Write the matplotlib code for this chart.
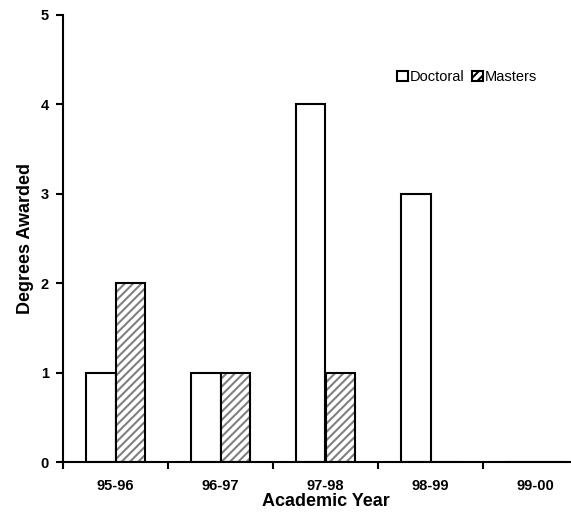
import numpy as np
import matplotlib.pyplot as plt
from matplotlib.patches import Patch

plt.rcParams['font.family'] = ['Liberation Sans', 'DejaVu Sans']

years = ['95-96', '96-97', '97-98', '98-99', '99-00']
doctoral = [1, 1, 4, 3, 0]
masters = [2, 1, 1, 0, 0]

x = np.arange(len(years))
w = 0.28

fig = plt.figure(figsize=(5.71, 5.12), dpi=100)
ax = fig.add_axes([63 / 571, 50 / 512, 525 / 571, 447 / 512])

ax.bar(x - w / 2, doctoral, w, color='white', edgecolor='black', linewidth=1.5)
# hatched masters bars: grey hatch, then black outline on top
plt.rcParams['hatch.color'] = '#808080'
plt.rcParams['hatch.linewidth'] = 1.5
ax.bar(x + w / 2, masters, w, color='white', edgecolor='#808080', linewidth=0, hatch='////')
ax.bar(x + w / 2, masters, w, color='none', edgecolor='black', linewidth=1.5)

ax.set_xlim(-0.5, len(years) - 0.5)
ax.set_ylim(0, 5)
ax.set_yticks(range(6))
ax.set_xticks(x)
ax.set_xticklabels(years, fontsize=10.5, fontweight='bold')
ax.set_xticks(np.arange(-0.5, len(years), 1), minor=True)
ax.tick_params(axis='x', which='major', length=0, pad=12)
ax.tick_params(axis='x', which='minor', length=5, width=1.5, direction='out')
ax.tick_params(axis='y', length=5, width=1.5, direction='out', labelsize=10.5, pad=5)
for lab in ax.get_yticklabels():
    lab.set_fontweight('bold')

for s in ['top', 'right']:
    ax.spines[s].set_visible(False)
for s in ['left', 'bottom']:
    ax.spines[s].set_linewidth(1.5)

ax.set_xlabel('Academic Year', fontsize=13, fontweight='bold', labelpad=0)
ax.set_ylabel('Degrees Awarded', fontsize=13, fontweight='bold', labelpad=5)

handles = [Patch(facecolor='white', edgecolor='black', linewidth=1.5, label='Doctoral'),
           Patch(facecolor='white', edgecolor='black', linewidth=1.5, hatch='////', label='Masters')]
ax.legend(handles=handles, loc='upper left', bbox_to_anchor=(0.625, 0.89), ncol=2, frameon=False,
          fontsize=10.5, handlelength=0.75, handleheight=0.75, handletextpad=0.15, columnspacing=0.5,
          borderaxespad=0)

fig.savefig('out.png', dpi=100)
